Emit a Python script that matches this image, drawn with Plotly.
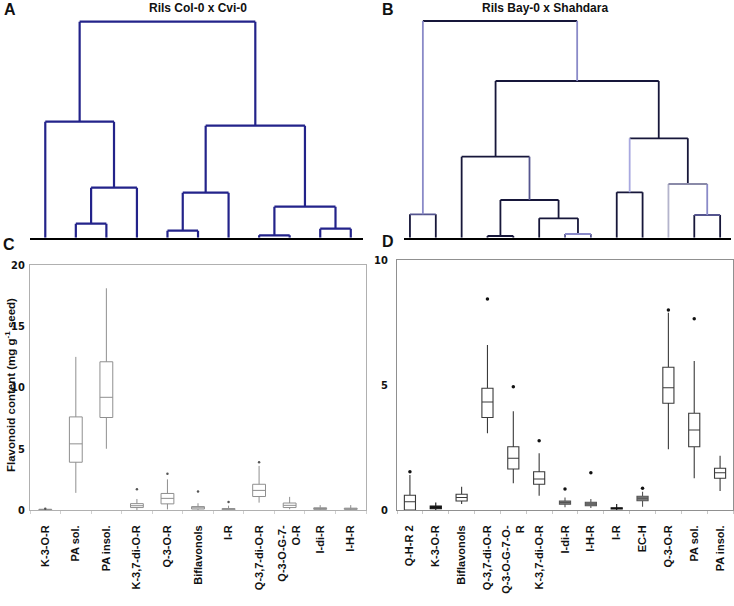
import plotly.graph_objects as go

# ---------------- DATA ----------------
# Dendrogram A (Rils Col-0 x Cvi-0): 11 leaves, merges (child_a, child_b, height)
A_n_leaves = 11
A_merges = [
    (1, 2, 14), (11, 3, 50), (0, 12, 116),
    (4, 5, 7), (14, 6, 45), (7, 8, 2.4), (9, 10, 9),
    (16, 17, 31), (15, 18, 112), (13, 19, 216),
]
# Dendrogram B (Rils Bay-0 x Shahdara): 13 leaves
B_n_leaves = 13
B_merges = [
    (0, 1, 23.4), (3, 4, 1.7), (6, 7, 3.7), (5, 15, 19.4),
    (14, 16, 37.7), (2, 17, 81), (8, 9, 45.4), (11, 12, 22.7),
    (10, 20, 53.7), (19, 21, 99.4), (18, 22, 156.7), (13, 23, 216.7),
]

# Panel C box plots
C_cats = ["K-3-O-R", "PA sol.", "PA insol.", "K-3,7-di-O-R", "Q-3-O-R", "Biflavonols",
          "I-R", "Q-3,7-di-O-R", "Q-3-O-G-7-<br>O-R", "I-di-R", "I-H-R"]
C_low = [0.0, 1.4, 5.0, 0.0, 0.05, 0.0, 0.0, 0.6, 0.06, 0.0, 0.0]
C_q1 = [0.02, 3.9, 7.55, 0.2, 0.5, 0.08, 0.02, 1.1, 0.2, 0.05, 0.05]
C_med = [0.04, 5.4, 9.2, 0.35, 0.95, 0.18, 0.06, 1.6, 0.38, 0.12, 0.1]
C_q3 = [0.06, 7.6, 12.1, 0.52, 1.35, 0.28, 0.12, 2.1, 0.57, 0.18, 0.15]
C_high = [0.1, 12.5, 18.1, 0.9, 2.5, 0.55, 0.35, 3.6, 1.07, 0.4, 0.4]
C_out_cat = ["K-3-O-R", "K-3,7-di-O-R", "Q-3-O-R", "Biflavonols", "I-R", "Q-3,7-di-O-R"]
C_out_val = [0.1, 1.7, 2.95, 1.5, 0.65, 3.9]

# Panel D box plots
D_cats = ["Q-H-R 2", "K-3-O-R", "Biflavonols", "Q-3,7-di-O-R", "Q-3-O-G-7-O-<br>R",
          "K-3,7-di-O-R", "I-di-R", "I-H-R", "I-R", "EC-H", "Q-3-O-R", "PA sol.", "PA insol."]
D_low = [0.0, 0.0, 0.24, 3.07, 1.07, 0.57, 0.11, 0.08, 0.0, 0.13, 2.43, 1.27, 0.76]
D_q1 = [0.0, 0.05, 0.36, 3.7, 1.64, 1.03, 0.23, 0.17, 0.04, 0.37, 4.27, 2.53, 1.27]
D_med = [0.33, 0.1, 0.5, 4.32, 2.07, 1.24, 0.3, 0.24, 0.06, 0.47, 4.89, 3.2, 1.49]
D_q3 = [0.59, 0.16, 0.63, 4.87, 2.53, 1.53, 0.36, 0.31, 0.09, 0.55, 5.71, 3.87, 1.67]
D_high = [1.4, 0.3, 0.93, 6.6, 3.95, 2.27, 0.5, 0.44, 0.24, 0.73, 7.89, 5.96, 2.17]
D_out_cat = ["Q-H-R 2", "Q-3,7-di-O-R", "Q-3-O-G-7-O-<br>R", "K-3,7-di-O-R", "I-di-R",
             "I-H-R", "EC-H", "Q-3-O-R", "PA sol."]
D_out_val = [1.53, 8.44, 4.93, 2.77, 0.84, 1.49, 0.87, 8.0, 7.65]

# ---------------- STYLES ----------------
A_COLOR = "#23238a"
B_DARK = "#17173a"
B_LIGHT = "#8a8ac8"
B_MID = "#55558f"
B_GREY = "#b4b4cc"
# per-merge (left vertical, horizontal, right vertical) colours for B
B_styles = {
    0: (B_DARK, B_MID, B_DARK), 2: (B_MID, B_LIGHT, B_MID), 5: (B_DARK, B_DARK, B_MID),
    8: (B_GREY, "#8a8aa8", B_LIGHT), 7: (B_DARK, B_MID, B_DARK),
    9: ("#a8a8e0", B_DARK, B_DARK), 11: (B_LIGHT, B_DARK, B_LIGHT),
}
D_FILLED = {"I-di-R", "I-H-R", "EC-H"}
D_DARK = {"K-3-O-R", "I-R"}

FONT = "Liberation Sans, Arial, sans-serif"
NARROW = "Liberation Sans Narrow, DejaVu Sans Condensed, Arial Narrow, sans-serif"


def dendro_segments(n, merges):
    pos = {i: float(i) for i in range(n)}
    hgt = {i: 0.0 for i in range(n)}
    segs = []
    for k, (a, b, h) in enumerate(merges):
        xa, xb = pos[a], pos[b]
        segs.append((k, "L", [xa, xa], [hgt[a], h]))
        segs.append((k, "H", [xa, xb], [h, h]))
        segs.append((k, "R", [xb, xb], [h, hgt[b]]))
        pos[n + k] = (xa + xb) / 2
        hgt[n + k] = h
    return segs


fig = go.Figure()

# Dendrogram A
xs, ys = [], []
for k, part, sx, sy in dendro_segments(A_n_leaves, A_merges):
    xs += sx + [None]
    ys += sy + [None]
fig.add_trace(go.Scatter(x=xs, y=ys, mode="lines", line=dict(color=A_COLOR, width=2.2),
                         xaxis="x", yaxis="y", hoverinfo="skip", showlegend=False))

# Dendrogram B
groups = {}
for k, part, sx, sy in dendro_segments(B_n_leaves, B_merges):
    st = B_styles.get(k, (B_DARK, B_DARK, B_DARK))
    col = st[{"L": 0, "H": 1, "R": 2}[part]]
    gx, gy = groups.setdefault(col, ([], []))
    gx += sx + [None]
    gy += sy + [None]
for col, (gx, gy) in groups.items():
    fig.add_trace(go.Scatter(x=gx, y=gy, mode="lines", line=dict(color=col, width=1.8),
                             xaxis="x2", yaxis="y2", hoverinfo="skip", showlegend=False))

# Panel C boxes
for i, c in enumerate(C_cats):
    fig.add_trace(go.Box(x=[c], q1=[C_q1[i]], median=[C_med[i]], q3=[C_q3[i]],
                         lowerfence=[C_low[i]], upperfence=[C_high[i]],
                         width=0.42, whiskerwidth=0, fillcolor="white",
                         line=dict(color="#8f8f8f", width=1), boxpoints=False,
                         xaxis="x3", yaxis="y3", showlegend=False, hoverinfo="skip"))
fig.add_trace(go.Scatter(x=C_out_cat, y=C_out_val, mode="markers",
                         marker=dict(color="#555", size=2.5), xaxis="x3", yaxis="y3",
                         showlegend=False, hoverinfo="skip"))

# Panel D boxes
for i, c in enumerate(D_cats):
    if c in D_FILLED:
        fill, lc = "#7a7a7a", "#555555"
    elif c in D_DARK:
        fill, lc = "#222222", "#111111"
    else:
        fill, lc = "white", "#3a3a3a"
    fig.add_trace(go.Box(x=[c], q1=[D_q1[i]], median=[D_med[i]], q3=[D_q3[i]],
                         lowerfence=[D_low[i]], upperfence=[D_high[i]],
                         width=0.43, whiskerwidth=0, fillcolor=fill,
                         line=dict(color=lc, width=1.1), boxpoints=False,
                         xaxis="x4", yaxis="y4", showlegend=False, hoverinfo="skip"))
fig.add_trace(go.Scatter(x=D_out_cat, y=D_out_val, mode="markers",
                         marker=dict(color="#111", size=3.5), xaxis="x4", yaxis="y4",
                         showlegend=False, hoverinfo="skip"))

W, H = 734, 606


def px_x(a, b):
    return [a / W, b / W]


def px_y(top, bottom):
    return [1 - bottom / H, 1 - top / H]


dendro_y = dict(range=[0, 230], domain=px_y(7.7, 237.7), visible=False, fixedrange=True,
                automargin=False)
tickfont_x = dict(family=FONT, size=11, color="#111", weight="bold")
tickfont_y = dict(family=NARROW, size=11, color="#111", weight="bold")

fig.update_layout(
    width=W, height=H, margin=dict(l=0, r=0, t=0, b=0, autoexpand=False),
    paper_bgcolor="white", plot_bgcolor="white", boxmode="overlay",
    xaxis=dict(domain=px_x(30, 363), range=[-0.5, 10.4], showline=True, linecolor="black",
               linewidth=2, showgrid=False, zeroline=False, showticklabels=False, ticks="",
               automargin=False),
    yaxis=dict(**dendro_y),
    xaxis2=dict(domain=px_x(404, 731), range=[-0.23, 12.42], showline=True, linecolor="black",
                linewidth=2, showgrid=False, zeroline=False, showticklabels=False, ticks="",
                automargin=False),
    yaxis2=dict(anchor="x2", **dendro_y),
    xaxis3=dict(domain=px_x(30, 366), type="category", categoryorder="array",
                categoryarray=C_cats, range=[-0.5, 10.5], anchor="y3", automargin=False,
                showline=True, linecolor="#b0b0b0", linewidth=1, mirror=True,
                showgrid=False, zeroline=False, tickangle=-90, tickfont=tickfont_x,
                ticks="outside", tickson="boundaries", ticklen=3, tickcolor="#d0d0d0",
                ticklabelstandoff=10),
    yaxis3=dict(domain=px_y(265, 510), range=[0, 20], anchor="x3", tickvals=[0, 5, 10, 15, 20],
                showline=True, linecolor="#b0b0b0", linewidth=1, mirror=True, automargin=False,
                showgrid=False, zeroline=False, ticks="", tickfont=tickfont_y,
                ticklabelstandoff=2),
    xaxis4=dict(domain=px_x(397, 733), type="category", categoryorder="array",
                categoryarray=D_cats, range=[-0.5, 12.5], anchor="y4", automargin=False,
                showline=True, linecolor="#909090", linewidth=1, mirror=True,
                showgrid=False, zeroline=False, tickangle=-90, tickfont=tickfont_x,
                ticks="outside", tickson="boundaries", ticklen=3, tickcolor="#c8c8c8",
                ticklabelstandoff=10),
    yaxis4=dict(domain=px_y(260, 510), range=[0, 10], anchor="x4", tickvals=[0, 5, 10],
                showline=True, linecolor="#909090", linewidth=1, mirror=True, automargin=False,
                showgrid=False, zeroline=False, ticks="", tickfont=tickfont_y,
                ticklabelstandoff=6),
)

ann = []
bold = dict(family=FONT, color="#111")
for txt, x, y, size in [("A", 10, 10, 16), ("B", 388, 9, 16), ("C", 9, 244, 16), ("D", 388, 241, 16)]:
    ann.append(dict(text=f"<b>{txt}</b>", x=x / W, y=1 - y / H, xref="paper", yref="paper",
                    showarrow=False, font=dict(size=size, **bold), xanchor="center", yanchor="middle"))
for txt, x in [("Rils Col-0 x Cvi-0", 198), ("Rils Bay-0 x Shahdara", 545)]:
    ann.append(dict(text=f"<b>{txt}</b>", x=x / W, y=1 - 8 / H, xref="paper", yref="paper",
                    showarrow=False, font=dict(size=12, **bold), xanchor="center", yanchor="middle"))
ann.append(dict(text="<b>Flavonoid content (mg g<sup>-1</sup> seed)</b>", x=1 / W, y=1 - 385 / H,
                xref="paper", yref="paper", showarrow=False, textangle=-90,
                font=dict(size=11.5, **bold), xanchor="left", yanchor="middle"))
fig.update_layout(annotations=ann)

fig.write_html("out.html", config={"displayModeBar": False},
               post_script="document.body.style.margin='0';document.body.style.overflow='hidden';")
